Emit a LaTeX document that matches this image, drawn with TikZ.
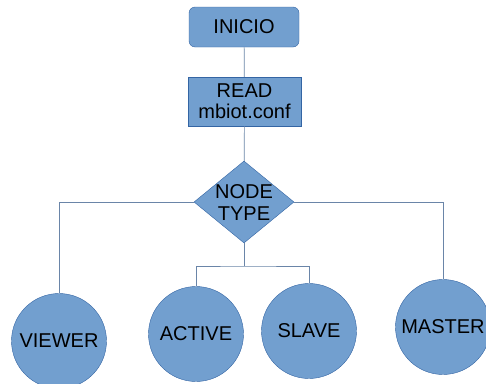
\documentclass[tikz,border=0pt]{standalone}
\usepackage{fontspec}
\setmainfont{Liberation Sans}
\usetikzlibrary{shapes.geometric}

\definecolor{boxfill}{HTML}{729FCF}
\definecolor{boxline}{HTML}{3465A4}
\definecolor{wire}{HTML}{6A85A8}

\tikzset{
  startbox/.style={draw=boxline, fill=boxfill, rounded corners=6pt, minimum width=110pt, minimum height=40pt, inner sep=0pt},
  readbox/.style={draw=boxline, fill=boxfill, minimum width=113pt, minimum height=49pt, inner sep=0pt, align=center},
  decision/.style={diamond, draw=boxline, fill=boxfill, minimum width=100pt, minimum height=82pt, inner sep=0pt},
  mode/.style={circle, draw=boxline, fill=boxfill, minimum size=95pt, inner sep=0pt},
  wire/.style={draw=wire, line width=0.7pt}
}

\begin{document}
\begin{tikzpicture}[x=1pt, y=-1pt, font=\fontsize{20}{21}\selectfont]
		\useasboundingbox (0,0) rectangle (486,383);
		% start and config
		\node[startbox] (start) at (244,27) {INICIO};
		\node[readbox] (read) at (244.5,101.5) {READ\\mbiot.conf};
		
		% choice of node type
		\node[decision] (type) at (244,202) {};
		\node[align=center, font=\fontsize{20}{22}\selectfont] (typetext) at (244,203) {NODE\\TYPE};
		
		% the four kinds of node
		\node[mode, label=center:VIEWER] (viewer) at (59,341) {};
		\node[mode, label=center:ACTIVE] (active) at (196,334) {};
		\node[mode, label=center:SLAVE] (slave) at (309,331) {};
		\node[mode, label=center:MASTER] (master) at (443,327) {};
		
		\coordinate (split) at (244,266);
		
		\draw[wire] (start) -- (read);
		\draw[wire] (read) -- (type);
		\draw[wire] (type.west) -| (viewer.north);
		\draw[wire] (type.east) -| (master.north);
		\draw[wire] (type.south) -- (split);
		\draw[wire] (active.north) |- (split) -| (slave.north);
\end{tikzpicture}
\end{document}
